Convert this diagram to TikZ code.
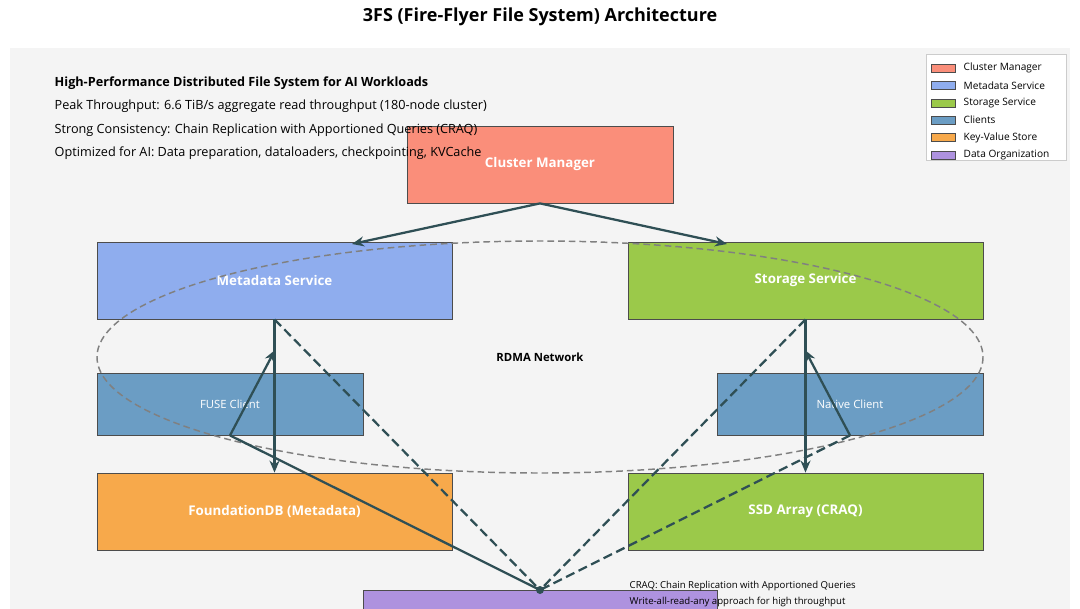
\documentclass[tikz,border=0pt]{standalone}
\usepackage{fontspec}
\usetikzlibrary{arrows.meta}
\setmainfont{Open Sans}
\begin{document}
\begin{tikzpicture}[x=0.75pt,y=-0.75pt,
 box/.style={draw=black!70,line width=0.6pt,text=white,font=\bfseries\fontsize{10}{12}\selectfont},
 cl/.style={draw=black!70,line width=0.6pt,fill=cliC,text=white,font=\fontsize{8.5}{11}\selectfont},
 arr/.style={draw=lnC,line width=1.7pt,-{Stealth[length=9pt,width=7.5pt]}},
 dsh/.style={draw=lnC,line width=1.7pt,dash pattern=on 7pt off 3.5pt},
 info/.style={anchor=west,font=\fontsize{9.5}{11}\selectfont},
 leg/.style={anchor=west,font=\fontsize{7.6}{9}\selectfont}]
\definecolor{cmC}{HTML}{FA8E7A}
\definecolor{mdC}{HTML}{8FADEE}
\definecolor{stC}{HTML}{9BC94A}
\definecolor{cliC}{HTML}{6B9DC4}
\definecolor{kvC}{HTML}{F7A94B}
\definecolor{doC}{HTML}{AE92DF}
\definecolor{lnC}{HTML}{2F4F55}
\definecolor{bgC}{HTML}{F4F4F4}
\useasboundingbox (0,0) rectangle (1080,609);
\fill[white] (0,0) rectangle (1080,609);
\fill[bgC] (10,48) rectangle (1070,609);
\node[font=\bfseries\fontsize{13.5}{15}\selectfont] (title) at (540,17) {3FS (Fire-Flyer File System) Architecture};
% boxes
\node[box,fill=cmC,minimum width=266*0.75pt,minimum height=77*0.75pt] (cm) at (540,164.5) {Cluster Manager};
\node[box,fill=mdC,minimum width=355*0.75pt,minimum height=77*0.75pt] (md) at (274.5,280.5) {Metadata Service};
\node[box,fill=stC,minimum width=355*0.75pt,minimum height=77*0.75pt] (st) at (805.5,280.5) {Storage Service};
\node[cl,minimum width=266*0.75pt,minimum height=62*0.75pt] (fuse) at (230,404) {FUSE Client};
\node[cl,minimum width=266*0.75pt,minimum height=62*0.75pt] (nat) at (850,404) {Native Client};
\node[box,fill=kvC,minimum width=355*0.75pt,minimum height=77*0.75pt] (fdb) at (274.5,511.5) {FoundationDB (Metadata)};
\node[box,fill=stC,minimum width=355*0.75pt,minimum height=77*0.75pt] (ssd) at (805.5,511.5) {SSD Array (CRAQ)};
\node[box,fill=doC,minimum width=354*0.75pt,minimum height=60*0.75pt,anchor=north] (dorg) at (540,590) {};
\node[info,font=\bfseries\fontsize{9.5}{11}\selectfont] (i1) at (50,83) {High-Performance Distributed File System for AI Workloads};
\node[info] (i2) at (50,106) {Peak Throughput: 6.6 TiB/s aggregate read throughput (180-node cluster)};
\node[info] (i3) at (50,130) {Strong Consistency: Chain Replication with Apportioned Queries (CRAQ)};
\node[info] (i4) at (50,153) {Optimized for AI: Data preparation, dataloaders, checkpointing, KVCache};
% ellipse
\draw[gray,line width=1.1pt,dash pattern=on 5pt off 3pt] (540,357) ellipse [x radius=443, y radius=116];
\node[font=\bfseries\fontsize{8.5}{10}\selectfont] (rdma) at (540,357) {RDMA Network};
% connectors
\coordinate (hub) at (dorg.north);
\draw[arr] (cm.south) -- (352,244);
\draw[arr] (cm.south) -- (727,244);
\draw[arr] (md.south) -- (fdb.north);
\draw[arr] (st.south) -- (ssd.north);
\draw[arr] (fuse.south) -- (275,350);
\draw[arr] (nat.south) -- (805,350);
\draw[draw=lnC,line width=1.7pt] (fuse.south) -- (hub);
\draw[dsh] (nat.south) -- (hub);
\draw[dsh] (md.south) -- (hub);
\draw[dsh] (st.south) -- (hub);
\fill[lnC] (hub) circle (4);
% notes
\node[anchor=west,font=\fontsize{7.2}{8}\selectfont] (n1) at (625,586) {CRAQ: Chain Replication with Apportioned Queries};
\node[anchor=west,font=\fontsize{7.2}{8}\selectfont] (n2) at (625,602) {Write-all-read-any approach for high throughput};
% legend
\draw[black!20,fill=white] (926,54) rectangle (1066,160);
\foreach \c/\t [count=\i] in {cmC/Cluster Manager,mdC/Metadata Service,stC/Storage Service,cliC/Clients,kvC/Key-Value Store,doC/Data Organization}{
  \draw[black!70,fill=\c] (931,{47+17.3*\i}) rectangle (955,{55+17.3*\i});
  \node[leg] at (959,{51+17.3*\i}) {\t};
}
\end{tikzpicture}
\end{document}
